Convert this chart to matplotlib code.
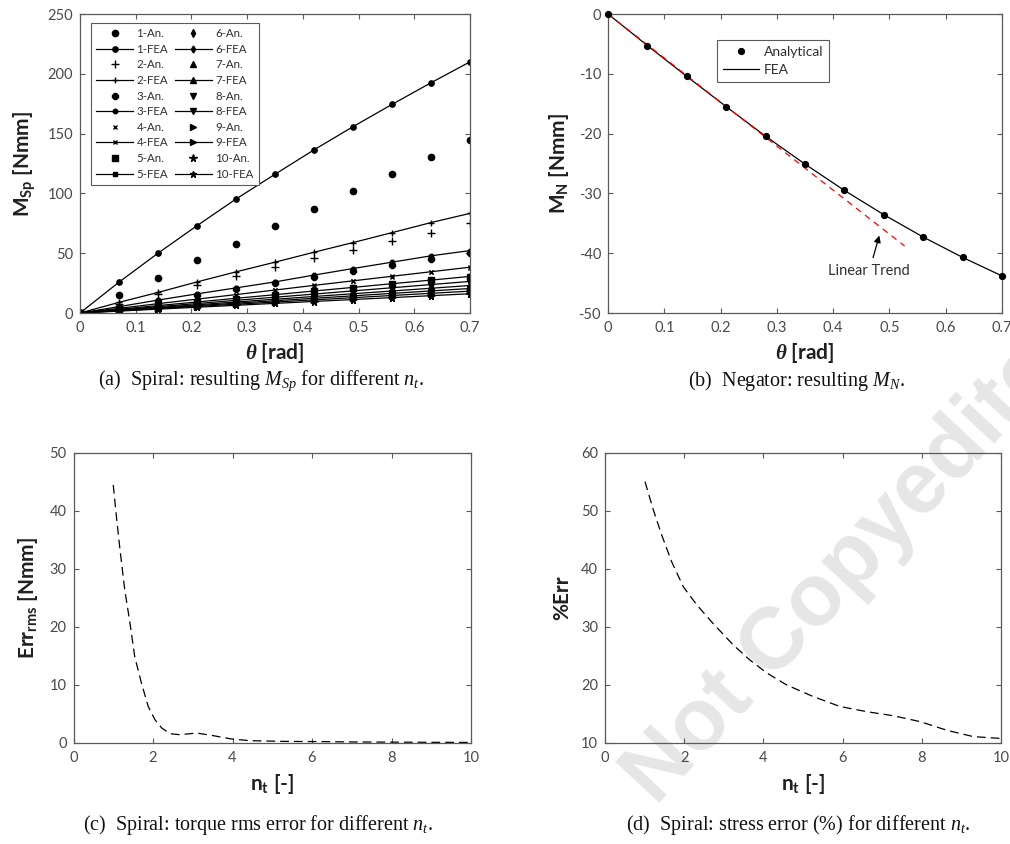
import matplotlib
matplotlib.use("Agg")
import matplotlib.pyplot as plt
import numpy as np

# ---------------- data ----------------
theta = [0.0, 0.07, 0.14, 0.21, 0.28, 0.35, 0.42, 0.49, 0.56, 0.63, 0.70]

fea1 = [0, 25.8, 50.0, 73.0, 95.3, 116.0, 136.4, 155.8, 174.4, 192.5, 210.0]
an1 = [0, 14.7, 29.4, 43.9, 58.0, 72.8, 87.2, 101.7, 116.0, 130.6, 145.0]
fea2 = [0, 8.9, 17.2, 26.0, 34.4, 42.5, 50.8, 58.9, 67.2, 75.6, 83.3]
an2 = [0, 7.8, 15.5, 23.2, 30.6, 38.3, 45.6, 52.8, 60.0, 67.2, 75.0]
fea3 = [0, 5.3, 10.8, 16.0, 21.0, 26.0, 31.7, 37.2, 42.5, 47.8, 52.2]
an3 = [0, 5.1, 10.2, 15.3, 20.3, 25.3, 30.4, 35.5, 40.5, 45.5, 50.5]
fea4 = [0, 3.9, 7.8, 11.6, 15.4, 19.2, 23.1, 26.9, 30.7, 34.5, 38.3]
an4 = [0, 3.8, 7.6, 11.4, 15.2, 19.0, 22.8, 26.6, 30.4, 34.2, 38.0]
fea5 = [0, 3.1, 6.2, 9.2, 12.3, 15.3, 18.4, 21.4, 24.5, 27.5, 30.6]
an5 = [0, 3.0, 6.1, 9.1, 12.1, 15.2, 18.2, 21.2, 24.2, 27.3, 30.3]
fea6 = [0, 2.6, 5.3, 7.9, 10.6, 13.2, 15.8, 18.5, 21.1, 23.8, 26.4]
an6 = [0, 2.6, 5.2, 7.8, 10.4, 13.1, 15.7, 18.3, 20.9, 23.5, 26.1]
fea7 = [0, 2.3, 4.6, 6.9, 9.2, 11.5, 13.8, 16.1, 18.4, 20.7, 23.0]
an7 = [0, 2.3, 4.5, 6.8, 9.1, 11.4, 13.7, 15.9, 18.2, 20.5, 22.8]
fea8 = [0, 2.05, 4.1, 6.15, 8.2, 10.25, 12.3, 14.35, 16.4, 18.45, 20.5]
an8 = [0, 2.0, 4.1, 6.1, 8.1, 10.1, 12.2, 14.2, 16.2, 18.3, 20.3]
fea9 = [0, 1.83, 3.66, 5.49, 7.32, 9.15, 10.98, 12.81, 14.64, 16.47, 18.3]
an9 = [0, 1.8, 3.6, 5.4, 7.3, 9.1, 10.9, 12.7, 14.5, 16.3, 18.1]
fea10 = [0, 1.61, 3.22, 4.83, 6.44, 8.05, 9.66, 11.27, 12.88, 14.49, 16.1]
an10 = [0, 1.6, 3.2, 4.8, 6.4, 8.0, 9.6, 11.2, 12.7, 14.3, 15.9]

fea_series = [fea1, fea2, fea3, fea4, fea5, fea6, fea7, fea8, fea9, fea10]
an_series = [an1, an2, an3, an4, an5, an6, an7, an8, an9, an10]
series_names = ["1", "2", "3", "4", "5", "6", "7", "8", "9", "10"]

mn_analytical = [0, -5.28, -10.44, -15.5, -20.44, -25.1, -29.5, -33.56, -37.3, -40.7, -43.8]
mn_fea = [0, -5.28, -10.44, -15.5, -20.44, -25.1, -29.5, -33.56, -37.3, -40.7, -43.8]
trend_theta = [0.0, 0.527]
trend_mn = [0.0, -38.8]

nt_c = [1.0, 1.08, 1.17, 1.29, 1.42, 1.54, 1.71, 1.88, 2.05, 2.22, 2.43, 2.68,
        3.1, 3.52, 3.98, 4.44, 5.28, 6.0, 7.0, 8.0, 9.0, 10.0]
err_rms = [44.5, 39.0, 33.3, 26.4, 20.7, 14.9, 10.3, 6.3, 4.0, 2.58, 1.6, 1.43,
           1.72, 1.26, 0.69, 0.4, 0.28, 0.25, 0.18, 0.15, 0.12, 0.1]

nt_d = [1.01, 1.22, 1.43, 1.68, 1.98, 2.32, 2.73, 3.24, 3.66, 4.08, 4.59, 5.26,
        5.93, 6.61, 7.28, 7.95, 8.63, 9.3, 9.97]
pct_err = [55.05, 50.2, 45.9, 41.3, 36.9, 33.8, 30.6, 26.9, 24.3, 22.1, 20.0, 18.0,
           16.3, 15.4, 14.7, 13.7, 12.2, 11.1, 10.8]

# ---------------- style ----------------
plt.rcParams['font.family'] = ['Lato', 'DejaVu Sans']
plt.rcParams['axes.unicode_minus'] = False
plt.rcParams['mathtext.fontset'] = 'custom'
plt.rcParams['mathtext.rm'] = 'Lato'
plt.rcParams['mathtext.bf'] = 'Lato:bold'
plt.rcParams['mathtext.it'] = 'Liberation Serif:italic'
plt.rcParams['mathtext.bfit'] = 'Liberation Serif:italic:bold'

TICK_C = '#4a4a4a'
SPINE_C = '#5a5a5a'
LABEL_C = '#202020'
LBL_FS = 15

W, H = 1010, 844
fig = plt.figure(figsize=(W / 100, H / 100), dpi=100)


def add_ax(l, t, r, b):
    return fig.add_axes([l / W, 1 - b / H, (r - l) / W, (b - t) / H])


def style(ax):
    ax.set_facecolor('none')
    for s in ax.spines.values():
        s.set_color(SPINE_C)
        s.set_linewidth(0.9)
    ax.tick_params(direction='in', top=True, right=True, length=3.5, width=0.8,
                   color=SPINE_C, labelcolor=TICK_C, labelsize=10.5)
    ax.tick_params(axis='x', pad=6)
    ax.tick_params(axis='y', pad=5)


axA = add_ax(80, 14, 470, 313)
axB = add_ax(608, 14, 1002, 313)
axC = add_ax(73.5, 453, 471, 743)
axD = add_ax(605, 453, 1001, 743)
for ax in (axA, axB, axC, axD):
    style(ax)

# ---------------- (a) ----------------
markers = ['o', '+', '8', 'x', 's', 'd', '^', 'v', '>', '*']
msizes = [4.5, 5.5, 4.0, 3.5, 3.8, 4.2, 4.5, 4.5, 4.5, 5.5]
handles = []
for name, fea, an, mk, ms in zip(series_names, fea_series, an_series, markers, msizes):
    h1, = axA.plot(theta, an, linestyle='none', marker=mk, ms=ms, color='k',
                   mew=1.0, label=f'{name}-An.')
    h2, = axA.plot(theta, fea, linestyle='-', lw=0.9, marker=mk, ms=ms * 0.85,
                   color='k', mew=1.0, label=f'{name}-FEA')
    handles += [h1, h2]
axA.set_xlim(0, 0.7)
axA.set_ylim(0, 250)
axA.set_xticks(np.arange(0, 0.71, 0.1))
axA.set_xticklabels(['0', '0.1', '0.2', '0.3', '0.4', '0.5', '0.6', '0.7'])
axA.set_yticks([0, 50, 100, 150, 200, 250])
leg = axA.legend(handles=handles, ncol=2, loc='upper left',
                 bbox_to_anchor=(0.028, 0.970), borderaxespad=0, fontsize=8.3,
                 handlelength=3.2, handletextpad=0.3, labelspacing=0.40,
                 columnspacing=0.6, fancybox=False, framealpha=1,
                 edgecolor=SPINE_C, borderpad=0.45)
leg.get_frame().set_linewidth(0.8)
for t in leg.get_texts():
    t.set_color('#303030')
axA.set_ylabel(r'$\mathbf{M_{Sp}}$ [Nmm]', fontsize=LBL_FS, fontweight='bold', color=LABEL_C)
axA.yaxis.set_label_coords(-0.107, 0.5)
axA.set_xlabel(r'$\mathbfit{\theta}$ [rad]', fontsize=LBL_FS, fontweight='bold', color=LABEL_C)
axA.xaxis.set_label_coords(0.5, -0.095)

# ---------------- (b) ----------------
axB.plot(trend_theta, trend_mn, color='#ff0000', lw=0.9, dashes=(5, 4), zorder=3)
axB.plot(theta, mn_fea, color='k', lw=0.9, label='FEA', zorder=2)
axB.plot(theta, mn_analytical, linestyle='none', marker='o', ms=4.2, color='k',
         label='Analytical', zorder=4, clip_on=False)
axB.set_xlim(0, 0.7)
axB.set_ylim(-50, 0)
axB.set_xticks(np.arange(0, 0.71, 0.1))
axB.set_xticklabels(['0', '0.1', '0.2', '0.3', '0.4', '0.5', '0.6', '0.7'])
axB.set_yticks([-50, -40, -30, -20, -10, 0])
hB = axB.get_legend_handles_labels()
legB = axB.legend([hB[0][1], hB[0][0]], [hB[1][1], hB[1][0]], loc='upper left',
                  bbox_to_anchor=(0.277, 0.913), borderaxespad=0, fontsize=10,
                  handlelength=2.6, handletextpad=0.3, labelspacing=0.4,
                  fancybox=False, framealpha=1, edgecolor=SPINE_C, borderpad=0.45)
legB.get_frame().set_linewidth(0.8)
for t in legB.get_texts():
    t.set_color('#303030')
axB.annotate('Linear Trend', xy=(0.482, -37.05), xytext=(0.464, -43.05),
             ha='center', va='center', fontsize=10.5, color='#303030',
             arrowprops=dict(arrowstyle='-|>', color='k', lw=0.9,
                             mutation_scale=10, shrinkA=3, shrinkB=0))
axB.set_ylabel(r'$\mathbf{M_{N}}$ [Nmm]', fontsize=LBL_FS, fontweight='bold', color=LABEL_C)
axB.yaxis.set_label_coords(-0.093, 0.5)
axB.set_xlabel(r'$\mathbfit{\theta}$ [rad]', fontsize=LBL_FS, fontweight='bold', color=LABEL_C)
axB.xaxis.set_label_coords(0.5, -0.095)

# ---------------- (c) ----------------
axC.plot(nt_c, err_rms, color='k', lw=0.9, dashes=(7, 4))
axC.set_xlim(0, 10)
axC.set_ylim(0, 50)
axC.set_xticks([0, 2, 4, 6, 8, 10])
axC.set_yticks([0, 10, 20, 30, 40, 50])
axC.set_ylabel(r'$\mathbf{Err_{rms}}$ [Nmm]', fontsize=LBL_FS, fontweight='bold', color=LABEL_C)
axC.yaxis.set_label_coords(-0.085, 0.5)
axC.set_xlabel(r'$\mathbf{n_{t}}$ [-]', fontsize=LBL_FS, fontweight='bold', color=LABEL_C)
axC.xaxis.set_label_coords(0.5, -0.1)

# ---------------- (d) ----------------
axD.plot(nt_d, pct_err, color='k', lw=0.9, dashes=(7, 4))
axD.set_xlim(0, 10)
axD.set_ylim(10, 60)
axD.set_xticks([0, 2, 4, 6, 8, 10])
axD.set_yticks([10, 20, 30, 40, 50, 60])
axD.set_ylabel('%Err', fontsize=LBL_FS, fontweight='bold', color=LABEL_C)
axD.yaxis.set_label_coords(-0.082, 0.5)
axD.set_xlabel(r'$\mathbf{n_{t}}$ [-]', fontsize=LBL_FS, fontweight='bold', color=LABEL_C)
axD.xaxis.set_label_coords(0.5, -0.1)

# ---------------- captions ----------------
cap_kw = dict(ha='center', va='center', fontsize=14.5, family='Liberation Serif', color='#111111')
fig.text(261 / W, 1 - 381 / H, r'(a)  Spiral: resulting $M_{Sp}$ for different $n_t$.', **cap_kw)
fig.text(796 / W, 1 - 381 / H, r'(b)  Negator: resulting $M_{N}$.', **cap_kw)
fig.text(258 / W, 1 - 825 / H, r'(c)  Spiral: torque rms error for different $n_t$.', **cap_kw)
fig.text(798 / W, 1 - 825 / H, r'(d)  Spiral: stress error (%) for different $n_t$.', **cap_kw)

# ---------------- watermark ----------------
fig.text(860 / W, 1 - 555 / H, 'Not Copyedited', rotation=47, ha='center', va='center',
         fontsize=63, fontweight='bold', family='Liberation Sans', color='#e6e6e6',
         zorder=-5, rotation_mode='anchor')

fig.savefig('out.png', dpi=100)
